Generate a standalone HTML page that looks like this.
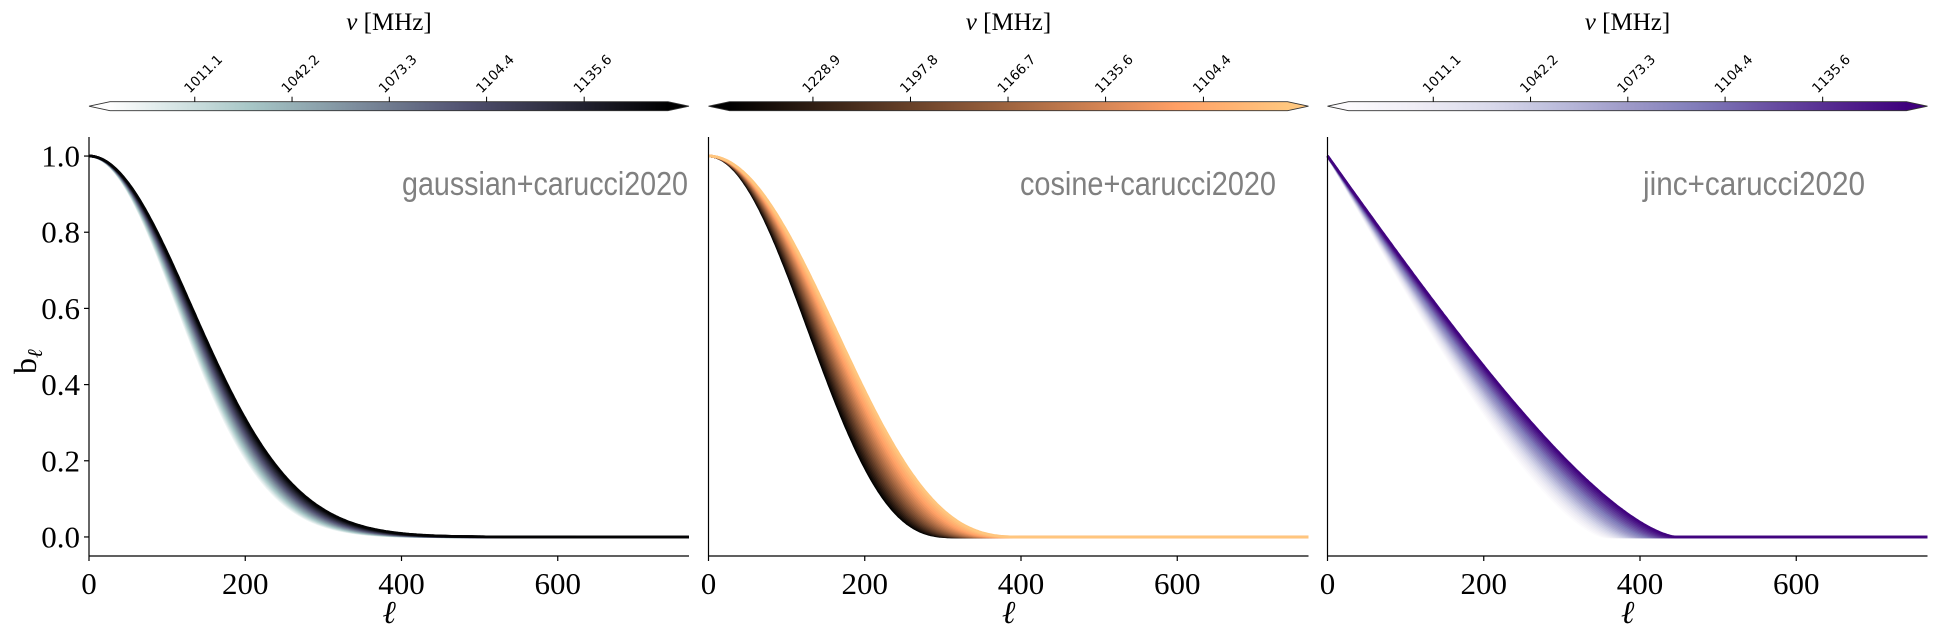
<!DOCTYPE html>
<html><head><meta charset="utf-8"><style>
html,body{margin:0;padding:0;background:#fff;}
svg{display:block;}
</style></head><body>
<svg id="chart" width="1938" height="635" viewBox="0 0 1938 635" xmlns="http://www.w3.org/2000/svg"></svg>
<script>
// ---- data ----
const panelNames = ["gaussian+carucci2020", "cosine+carucci2020", "jinc+carucci2020"];
const cbTicks1 = [1011.1, 1042.2, 1073.3, 1104.4, 1135.6];
const cbTicks2 = [1228.9, 1197.8, 1166.7, 1135.6, 1104.4];
const cbTicks3 = [1011.1, 1042.2, 1073.3, 1104.4, 1135.6];
const cbRange1 = [984, 1162.4];
const cbRange2 = [1255.5, 1077.6];
const cbRange3 = [984, 1162.4];
const freqs1 = [984,992,1000,1008,1016,1024,1032,1040,1048,1056,1064,1072,1080,1088,1096,1104,1112,1120,1128,1136,1144,1152,1160];
const freqs2 = [1255,1247,1239,1231,1223,1215,1207,1199,1191,1183,1175,1167,1159,1151,1143,1135,1127,1119,1111,1103,1095,1087,1079];
const freqs3 = [984,992,1000,1008,1016,1024,1032,1040,1048,1056,1064,1072,1080,1088,1096,1104,1112,1120,1128,1136,1144,1152,1160];
// beam scale at reference frequency and frequency scaling exponent
const beamRef = [131, 316, 447];
const beamNuRef = [1162, 1255, 1162];
const beamAlpha = [0.95, -1.6, 1.37];
const xTicks = [0, 200, 400, 600];
const yTicks = [0.0, 0.2, 0.4, 0.6, 0.8, 1.0];
const ellMax = 768;

// ---- layout ----
const NS = "http://www.w3.org/2000/svg";
const svg = document.getElementById("chart");
const panelX = [89, 708.5, 1327.5];
const PW = 600, yTop = 137, yBot = 556;
const yMin = -0.05, yMax = 1.05;
function xs(p, l){ return panelX[p] + l / ellMax * PW; }
function ys(v){ return yBot - (v - yMin) / (yMax - yMin) * (yBot - yTop); }
function el(tag, attrs, parent){
  const e = document.createElementNS(NS, tag);
  for (const k in attrs) e.setAttribute(k, attrs[k]);
  (parent || svg).appendChild(e);
  return e;
}
function lerpStops(stops, t){
  t = Math.max(0, Math.min(1, t));
  for (let i = 1; i < stops.length; i++){
    if (t <= stops[i][0]){
      const a = stops[i-1], b = stops[i];
      const f = (t - a[0]) / ((b[0] - a[0]) || 1);
      return a[1] + (b[1] - a[1]) * f;
    }
  }
  return stops[stops.length-1][1];
}
function rgb(r,g,b){ return "rgb(" + Math.round(r*255) + "," + Math.round(g*255) + "," + Math.round(b*255) + ")"; }
function boneR(t){
  const u = 1 - t;
  const r = lerpStops([[0,0],[0.746032,0.652778],[1,1]], u);
  const g = lerpStops([[0,0],[0.365079,0.319444],[0.746032,0.777778],[1,1]], u);
  const b = lerpStops([[0,0],[0.365079,0.444444],[1,1]], u);
  return rgb(r,g,b);
}
function copper(t){ t=Math.max(0,Math.min(1,t)); return rgb(Math.min(1,1.25*t), 0.7812*t, 0.4975*t); }
const purpHex = ["#fcfbfd","#efedf5","#dadaeb","#bcbddc","#9e9ac8","#807dba","#6a51a3","#54278f","#3f007d"];
function purples(t){
  t = Math.max(0, Math.min(1, t));
  const f = t * (purpHex.length - 1), i = Math.min(purpHex.length - 2, Math.floor(f)), w = f - i;
  const a = purpHex[i], b = purpHex[i+1];
  const c = k => parseInt(a.substr(k,2),16)*(1-w) + parseInt(b.substr(k,2),16)*w;
  return "rgb(" + Math.round(c(1)) + "," + Math.round(c(3)) + "," + Math.round(c(5)) + ")";
}
const cmaps = [boneR, copper, purples];
const cbRanges = [cbRange1, cbRange2, cbRange3];
const cbTickSets = [cbTicks1, cbTicks2, cbTicks3];
const freqSets = [freqs1, freqs2, freqs3];

function beam(p, nu, l){
  const w = beamRef[p] * Math.pow(nu / beamNuRef[p], beamAlpha[p]);
  if (p === 0) return Math.exp(-l*l / (2*w*w));
  if (p === 1){ if (l >= w) return 0; return Math.pow(Math.cos(Math.PI*l/(2*w)), 2.8); }
  const u = l / w; if (u >= 1) return 0;
  const hat = (2/Math.PI) * (Math.acos(u) - u*Math.sqrt(1-u*u));
  return hat * (1 - 0.03 * Math.exp(-l*l/200)) + 0.03 * Math.exp(-l*l/200);
}

// defs for gradients
const defs = el("defs", {});
for (let p = 0; p < 3; p++){
  const g = el("linearGradient", {id:"cbg"+p, x1:"0", x2:"1", y1:"0", y2:"0"}, defs);
  for (let i = 0; i <= 20; i++){
    el("stop", {offset:(i/20).toFixed(3), "stop-color": cmaps[p](i/20)}, g);
  }
}

for (let p = 0; p < 3; p++){
  const x0 = panelX[p];
  const gPanel = el("g", {});
  
  

  // colorbar
  const cb = el("g", {}, gPanel);
  
  
  const cTop = 101.7, cBot = 110.7, cMid = (cTop + cBot)/2, arrow = 21;
  const inL = x0 + arrow, inR = x0 + PW - arrow;
  el("polygon", {points: x0+","+cMid+" "+inL+","+cTop+" "+inL+","+cBot, fill: cmaps[p](0)}, cb);
  el("polygon", {points: (x0+PW)+","+cMid+" "+inR+","+cTop+" "+inR+","+cBot, fill: cmaps[p](1)}, cb);
  el("rect", {x:inL, y:cTop, width:inR-inL, height:cBot-cTop, fill:"url(#cbg"+p+")"}, cb);
  el("polygon", {points: x0+","+cMid+" "+inL+","+cTop+" "+inR+","+cTop+" "+(x0+PW)+","+cMid+" "+inR+","+cBot+" "+inL+","+cBot,
    fill:"none", stroke:"#333", "stroke-width":"0.8"}, cb);
  const rng = cbRanges[p];
  cbTickSets[p].forEach(v => {
    const tx = inL + (v - rng[0]) / (rng[1] - rng[0]) * (inR - inL);
    const tk = el("line", {x1:tx, x2:tx, y1:cTop, y2:cTop-5, stroke:"#000", "stroke-width":"1"}, cb);
    
    
    const t = el("text", {x:tx-5, y:cTop-8, "font-family":"'DejaVu Sans','Liberation Sans',sans-serif", "font-size":"13.5",
      transform:"rotate(-45 "+(tx-5)+" "+(cTop-8)+")"}, cb);
    t.textContent = v.toFixed(1);
    
    
  });
  const ct = el("text", {x:x0+PW/2, y:30, "text-anchor":"middle", "font-family":"'Liberation Serif',serif", "font-size":"25"}, cb);
  ct.innerHTML = '<tspan font-style="italic">ν</tspan> [MHz]';
  
  

  // curves
  const gc = el("g", {fill:"none", "stroke-width":"2.6", "stroke-linejoin":"round"}, gPanel);
  
  
  freqSets[p].forEach(nu => {
    let d = "";
    for (let l = 0; l <= ellMax; l += 2){
      d += (l ? "L" : "M") + xs(p,l).toFixed(1) + "," + ys(beam(p, nu, l)).toFixed(1);
    }
    const path = el("path", {d:d, stroke: cmaps[p]((nu - rng[0])/(rng[1]-rng[0]))}, gc);
    
    
  });

  // axes
  const ax = el("g", {stroke:"#000", "stroke-width":"1.2"}, gPanel);
  
  
  el("line", {x1:x0, x2:x0, y1:yTop, y2:yBot}, ax);
  el("line", {x1:x0, x2:x0+PW, y1:yBot, y2:yBot}, ax);
  xTicks.forEach(v => {
    const tx = xs(p, v);
    el("line", {x1:tx, x2:tx, y1:yBot, y2:yBot+5}, ax);
    const t = el("text", {x:tx, y:594, "text-anchor":"middle", "font-family":"'Liberation Serif',serif", "font-size":"31", stroke:"none", fill:"#000"}, gPanel);
    t.textContent = v;
    
    
  });
  const xl = el("text", {x:x0+PW/2, y:623, "text-anchor":"middle", "font-family":"'Liberation Serif',serif", "font-style":"italic", "font-size":"32"}, gPanel);
  xl.textContent = "ℓ";
  
  
  if (p === 0){
    yTicks.forEach(v => {
      const ty = ys(v);
      el("line", {x1:x0-5, x2:x0, y1:ty, y2:ty}, ax);
      const t = el("text", {x:x0-9, y:ty+10.5, "text-anchor":"end", "font-family":"'Liberation Serif',serif", "font-size":"31", stroke:"none", fill:"#000"}, gPanel);
      t.textContent = v.toFixed(1);
      
      
    });
  }
  // annotation
  const annX = [[402,688],[1020,1276],[1643,1865]][p];
  const an = el("text", {x:annX[0], y:195, textLength:annX[1]-annX[0], lengthAdjust:"spacingAndGlyphs", "font-family":"'Liberation Sans',sans-serif", "font-size":"33", fill:"#808080"}, gPanel);
  an.textContent = panelNames[p];
  
  
}
const yl = el("text", {x:0, y:0, "font-family":"'Liberation Serif',serif", "font-size":"32", transform:"translate(36 374) rotate(-90)"});
yl.innerHTML = 'b<tspan font-size="21" font-style="italic" dy="6">ℓ</tspan>';


</script>
</body></html>
